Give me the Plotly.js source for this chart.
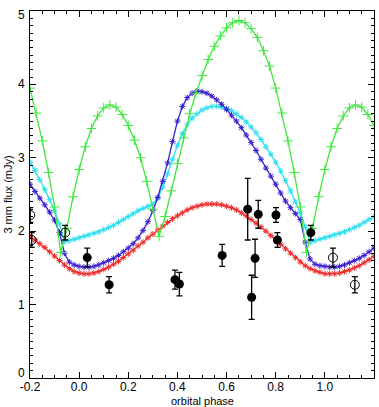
<!DOCTYPE html>
<html>
<head>
<meta charset="utf-8">
<script src="https://cdn.plot.ly/plotly-3.0.1.min.js"></script>
<style>
  html, body { margin: 0; padding: 0; background: #fff; }
  #chart { width: 379px; height: 407px; }
</style>
</head>
<body>
<div id="chart"></div>
<script>
// Model light curves sampled every 0.02 in orbital phase
const phaseFine = [-0.20,-0.18,-0.16,-0.14,-0.12,-0.10,-0.08,-0.06,-0.04,-0.02,
  0.00,0.02,0.04,0.06,0.08,0.10,0.12,0.14,0.16,0.18,
  0.20,0.22,0.24,0.26,0.28,0.30,0.32,0.34,0.36,0.38,
  0.40,0.42,0.44,0.46,0.48,0.50,0.52,0.54,0.56,0.58,
  0.60,0.62,0.64,0.66,0.68,0.70,0.72,0.74,0.76,0.78,
  0.80,0.82,0.84,0.86,0.88,0.90,0.92,0.94,0.96,0.98,
  1.00,1.02,1.04,1.06,1.08,1.10,1.12,1.14,1.16,1.18,1.20];

const fluxBlue = [2.64,2.54,2.45,2.36,2.26,2.15,1.98,1.70,1.58,1.54,
  1.52,1.51,1.51,1.52,1.54,1.57,1.60,1.63,1.67,1.72,
  1.77,1.83,1.91,2.01,2.13,2.28,2.46,2.68,2.93,3.22,
  3.50,3.70,3.82,3.88,3.91,3.90,3.88,3.84,3.79,3.73,
  3.66,3.58,3.50,3.41,3.31,3.21,3.10,2.98,2.86,2.75,
  2.64,2.52,2.41,2.32,2.24,2.16,1.85,1.62,1.55,1.53,
  1.52,1.51,1.51,1.52,1.54,1.57,1.60,1.63,1.67,1.72,1.77];

const fluxCyan = [2.94,2.83,2.70,2.57,2.43,2.28,2.10,1.86,1.87,1.89,
  1.91,1.93,1.95,1.97,1.99,2.02,2.05,2.08,2.12,2.16,
  2.20,2.24,2.28,2.31,2.34,2.37,2.45,2.60,2.78,2.98,
  3.17,3.33,3.45,3.54,3.60,3.65,3.68,3.70,3.70,3.69,
  3.67,3.64,3.60,3.55,3.49,3.42,3.34,3.25,3.15,3.05,
  2.94,2.82,2.69,2.55,2.40,2.25,2.06,1.85,1.87,1.89,
  1.91,1.93,1.95,1.97,1.99,2.02,2.05,2.08,2.12,2.16,2.20];

const fluxRed = [1.93,1.88,1.83,1.78,1.72,1.66,1.60,1.54,1.49,1.45,
  1.43,1.42,1.42,1.43,1.45,1.48,1.51,1.55,1.59,1.64,
  1.69,1.74,1.80,1.85,1.91,1.96,2.02,2.07,2.12,2.17,
  2.21,2.25,2.29,2.32,2.34,2.36,2.37,2.37,2.37,2.36,
  2.34,2.32,2.29,2.25,2.21,2.16,2.11,2.06,2.00,1.94,
  1.88,1.82,1.76,1.70,1.64,1.58,1.53,1.49,1.46,1.44,
  1.42,1.42,1.42,1.43,1.45,1.47,1.50,1.53,1.57,1.61,1.66];

// Model sampled every 0.025 in orbital phase
const phaseCoarse = [-0.200,-0.175,-0.150,-0.125,-0.100,-0.075,-0.050,-0.025,
  0.000,0.025,0.050,0.075,0.100,0.125,0.150,0.175,0.200,0.225,0.250,0.275,
  0.300,0.325,0.350,0.375,0.400,0.425,0.450,0.475,0.500,0.525,0.550,0.575,
  0.600,0.625,0.650,0.675,0.700,0.725,0.750,0.775,0.800,0.825,0.850,0.875,
  0.900,0.925,0.950,0.975,1.000,1.025,1.050,1.075,1.100,1.125,1.150,1.175,1.200];

const fluxGreen = [3.95,3.61,3.23,2.80,2.33,1.71,2.04,2.47,
  2.84,3.15,3.40,3.57,3.68,3.72,3.69,3.59,3.44,3.24,3.00,2.68,
  2.30,1.93,2.20,2.55,2.92,3.27,3.60,3.88,4.12,4.34,4.52,4.66,
  4.77,4.84,4.87,4.84,4.76,4.64,4.46,4.25,3.95,3.61,3.23,2.80,
  2.33,1.71,2.04,2.47,2.84,3.15,3.40,3.57,3.68,3.72,3.69,3.59,3.44];

// 3 mm measurements: orbital phase, flux and 1-sigma error (mJy)
const obsPhase = [0.033,0.122,0.390,0.408,0.582,0.686,0.702,0.716,0.729,0.801,0.807,0.943];
const obsFlux  = [1.64,1.27,1.34,1.28,1.67,2.30,1.10,1.63,2.23,2.22,1.88,1.98];
const obsErr   = [0.13,0.11,0.13,0.16,0.15,0.42,0.30,0.26,0.19,0.10,0.10,0.10];

const xTickVals = [-0.2,0.0,0.2,0.4,0.6,0.8,1.0,1.2];
const xTickText = ["-0.2","0.0","0.2","0.4","0.6","0.8","1.0","1.2"];
const yTickVals = [0,1,2,3,4,5];
const yTickText = ["0","1","2","3","4","5"];

// Repeat each measurement one cycle earlier/later, shown as open circles
const rpPhase = [], rpFlux = [], rpErr = [];
obsPhase.forEach((p, i) => {
  [-1, 1].forEach(s => {
    const q = p + s;
    if (q >= -0.22 && q <= 1.22) {
      rpPhase.push(q); rpFlux.push(obsFlux[i]); rpErr.push(obsErr[i]);
    }
  });
});

function curve(x, y, color, symbol, size) {
  return {
    x: x, y: y, type: 'scatter', mode: 'lines+markers',
    line: { color: color, width: 1.3 },
    marker: { symbol: symbol, size: size, color: color, line: { color: color, width: 1 } },
    hoverinfo: 'skip', showlegend: false
  };
}

const errStyle = (arr) => ({ type: 'data', array: arr, visible: true, color: '#000', thickness: 1.3, width: 3 });

const traces = [
  curve(phaseFine, fluxCyan, '#2be0f0', 'asterisk-open', 5),
  curve(phaseFine, fluxBlue, '#3a1fcf', 'asterisk-open', 5),
  curve(phaseFine, fluxRed, '#ee2a2a', 'asterisk-open', 5),
  curve(phaseCoarse, fluxGreen, '#3fe83f', 'cross-thin-open', 7),
  {
    x: obsPhase, y: obsFlux, type: 'scatter', mode: 'markers',
    marker: { symbol: 'circle', size: 9, color: '#000' },
    error_y: errStyle(obsErr), showlegend: false, hoverinfo: 'skip'
  },
  {
    x: rpPhase, y: rpFlux, type: 'scatter', mode: 'markers',
    marker: { symbol: 'circle-open', size: 9, color: '#000', line: { width: 1, color: '#000' } },
    error_y: errStyle(rpErr), showlegend: false, hoverinfo: 'skip'
  }
];

// y tick labels: the end labels are nudged inward so they stay clear of the corners
const yLabels = yTickVals.map((v, i) => ({
  xref: 'paper', yref: 'y', x: 0, y: v, xshift: -3,
  yshift: i === 0 ? 5 : (i === yTickVals.length - 1 ? -4 : 0),
  xanchor: 'right', yanchor: 'middle',
  text: yTickText[i], showarrow: false,
  font: { size: 12, color: '#000' }
}));

// x-axis title placed just under the tick labels
const xTitle = {
  xref: 'paper', yref: 'paper', x: 0.5, y: 0, yshift: -15,
  xanchor: 'center', yanchor: 'top',
  text: 'orbital phase', showarrow: false,
  font: { size: 11, color: '#000' }
};

const layout = {
  width: 379, height: 407,
  margin: { l: 30, r: 5, t: 11, b: 29 },
  paper_bgcolor: '#fff', plot_bgcolor: '#fff',
  font: { family: 'Liberation Sans, Arial, sans-serif', size: 12, color: '#000' },
  showlegend: false,
  annotations: yLabels.concat([xTitle]),
  xaxis: {
    range: [-0.2, 1.2], autorange: false,
    tickmode: 'array', tickvals: xTickVals, ticktext: xTickText,
    ticks: 'inside', ticklen: 6, tickwidth: 1, tickcolor: '#000',
    minor: { dtick: 0.05, tick0: 0, ticks: 'inside', ticklen: 3, tickcolor: '#000', tickwidth: 1, showgrid: false },
    showline: true, linecolor: '#000', linewidth: 1, mirror: 'ticks',
    showgrid: false, zeroline: false,
    tickfont: { size: 12 },
    ticklabelstandoff: -2,
    automargin: false
  },
  yaxis: {
    range: [0, 5], autorange: false,
    tickmode: 'array', tickvals: yTickVals, ticktext: yTickText,
    showticklabels: false,
    ticks: 'inside', ticklen: 6, tickwidth: 1, tickcolor: '#000',
    minor: { dtick: 0.1, tick0: 0, ticks: 'inside', ticklen: 3, tickcolor: '#000', tickwidth: 1, showgrid: false },
    showline: true, linecolor: '#000', linewidth: 1, mirror: 'ticks',
    showgrid: false, zeroline: false,
    title: { text: '3 mm flux (mJy)', font: { size: 11 }, standoff: 14 },
    automargin: false
  }
};

Plotly.newPlot('chart', traces, layout, { staticPlot: true, displayModeBar: false });
</script>
</body>
</html>
